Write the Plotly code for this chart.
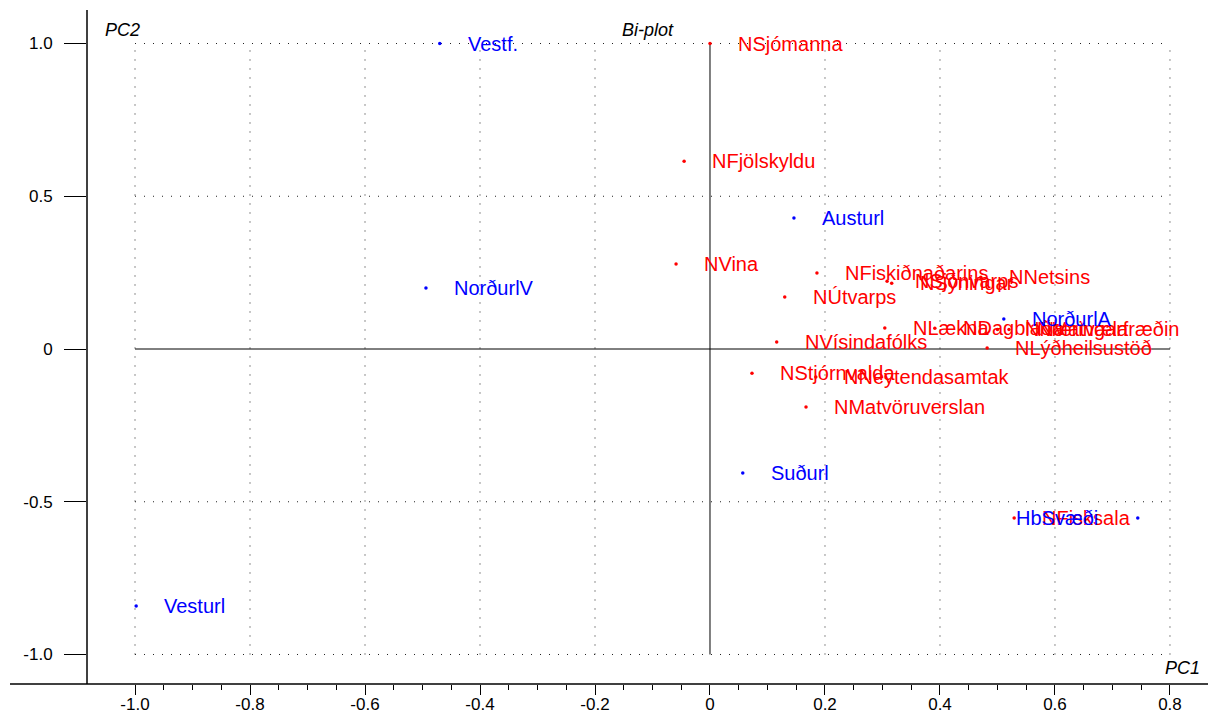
import numpy as np
import plotly.graph_objects as go

# Observations (blue)
obs_names = ["Vestf.", "NorðurlV", "Austurl", "NorðurlA", "Suðurl", "HbSvæði", "Vesturl"]
obs_pc1 = [-0.470, -0.494, 0.146, 0.511, 0.057, 0.744, -0.998]
obs_pc2 = [1.000, 0.200, 0.429, 0.098, -0.406, -0.553, -0.841]

# Variables (red)
var_names = ["NSjómanna", "NFjölskyldu", "NVina", "NFiskiðnaðarins", "NÚtvarps",
             "NSjónvarps", "NSýningar", "NNetsins", "NLækna", "NDagblaða",
             "NMatvæla", "NNæringarfræðin", "NLýðheilsustöð", "NVísindafólks",
             "NStjórnvalda", "NNeytendasamtak", "NMatvöruverslan", "NFisksala"]
var_pc1 = [0.000, -0.045, -0.059, 0.186, 0.130,
           0.308, 0.316, 0.471, 0.304, 0.391,
           0.520, 0.500, 0.482, 0.116,
           0.073, 0.184, 0.167, 0.529]
var_pc2 = [1.000, 0.615, 0.278, 0.249, 0.170,
           0.222, 0.215, 0.235, 0.069, 0.068,
           0.064, 0.064, 0.003, 0.023,
           -0.079, -0.092, -0.190, -0.553]

x_tick_vals = [-1.0, -0.8, -0.6, -0.4, -0.2, 0.0, 0.2, 0.4, 0.6, 0.8]
x_tick_text = ["-1.0", "-0.8", "-0.6", "-0.4", "-0.2", "0", "0.2", "0.4", "0.6", "0.8"]
y_tick_vals = [-1.0, -0.5, 0.0, 0.5, 1.0]
y_tick_text = ["-1.0", "-0.5", "0", "0.5", "1.0"]

RED = "#FF0000"
BLUE = "#0000FF"
FONT = "Liberation Sans"
label_left = {"HbSvæði"}

fig = go.Figure()
fig.add_trace(go.Scatter(x=var_pc1, y=var_pc2, mode="markers",
                         marker=dict(color=RED, size=3.5), hoverinfo="text",
                         text=var_names, showlegend=False))
fig.add_trace(go.Scatter(x=obs_pc1, y=obs_pc2, mode="markers",
                         marker=dict(color=BLUE, size=3.5), hoverinfo="text",
                         text=obs_names, showlegend=False))

annotations = []
for names, xs, ys, col in [(var_names, var_pc1, var_pc2, RED), (obs_names, obs_pc1, obs_pc2, BLUE)]:
    for n, xv, yv in zip(names, xs, ys):
        left = n in label_left
        annotations.append(dict(x=xv, y=yv, xref="x", yref="y", text=n, showarrow=False,
                                xanchor="right" if left else "left", yanchor="middle",
                                xshift=-38 if left else 26,
                                font=dict(family=FONT, size=20, color=col)))

# Titles
for txt, px, py in [("PC2", 0.0143, 0.970), ("Bi-plot", 0.4746, 0.970), ("PC1", 0.958, 0.0237)]:
    annotations.append(dict(x=px, y=py, xref="paper", yref="paper", text=txt, showarrow=False,
                            xanchor="left", yanchor="middle",
                            font=dict(family=FONT, size=18, color="black", style="italic")))

shapes = []
dot = dict(color="#222", width=1, dash="1px,8px")
for xv in x_tick_vals:
    if xv != 0:
        shapes.append(dict(type="line", xref="x", yref="y", x0=xv, x1=xv, y0=-1.0, y1=1.0, line=dot, layer="below"))
for yv in [1.0, 0.5, -0.5, -1.0]:
    shapes.append(dict(type="line", xref="x", yref="y", x0=-1.0, x1=0.8, y0=yv, y1=yv, line=dot, layer="below"))
shapes.append(dict(type="line", xref="x", yref="y", x0=0, x1=0, y0=-1.0, y1=1.0, line=dict(color="black", width=1), layer="below"))
shapes.append(dict(type="line", xref="x", yref="y", x0=-1.0, x1=0.8, y0=0, y1=0, line=dict(color="black", width=1), layer="below"))
# frame axes
shapes.append(dict(type="line", xref="paper", yref="paper", x0=-0.0686, x1=1.0, y0=0, y1=0, line=dict(color="black", width=1.5)))
shapes.append(dict(type="line", xref="paper", yref="paper", x0=0, x1=0, y0=0, y1=1, line=dict(color="black", width=1.5)))

minor_x = [round(v, 2) for v in np.arange(-1.0, 0.8001, 0.05) if abs(round(v / 0.2) * 0.2 - v) > 1e-6]

fig.update_layout(
    width=1208, height=705,
    margin=dict(l=79, r=6, t=2, b=29, autoexpand=False),
    paper_bgcolor="white", plot_bgcolor="white",
    annotations=annotations, shapes=shapes,
    xaxis=dict(range=[-1.0835, 0.8696], showgrid=False, zeroline=False, showline=False,
               automargin=False,
               tickmode="array", tickvals=x_tick_vals, ticktext=x_tick_text,
               ticks="outside", ticklen=10, tickwidth=1, tickcolor="black",
               tickfont=dict(family=FONT, size=17, color="black"), ticklabelstandoff=-5,
               minor=dict(tickvals=minor_x, ticks="outside", ticklen=5, tickcolor="black", showgrid=False)),
    yaxis=dict(range=[-1.0966, 1.1097], showgrid=False, zeroline=False, showline=False,
               automargin=False,
               tickmode="array", tickvals=y_tick_vals, ticktext=y_tick_text,
               ticks="outside", ticklen=22, tickwidth=1, tickcolor="black",
               tickfont=dict(family=FONT, size=17, color="black"), ticklabelstandoff=8),
)

fig.write_html("out.html")
